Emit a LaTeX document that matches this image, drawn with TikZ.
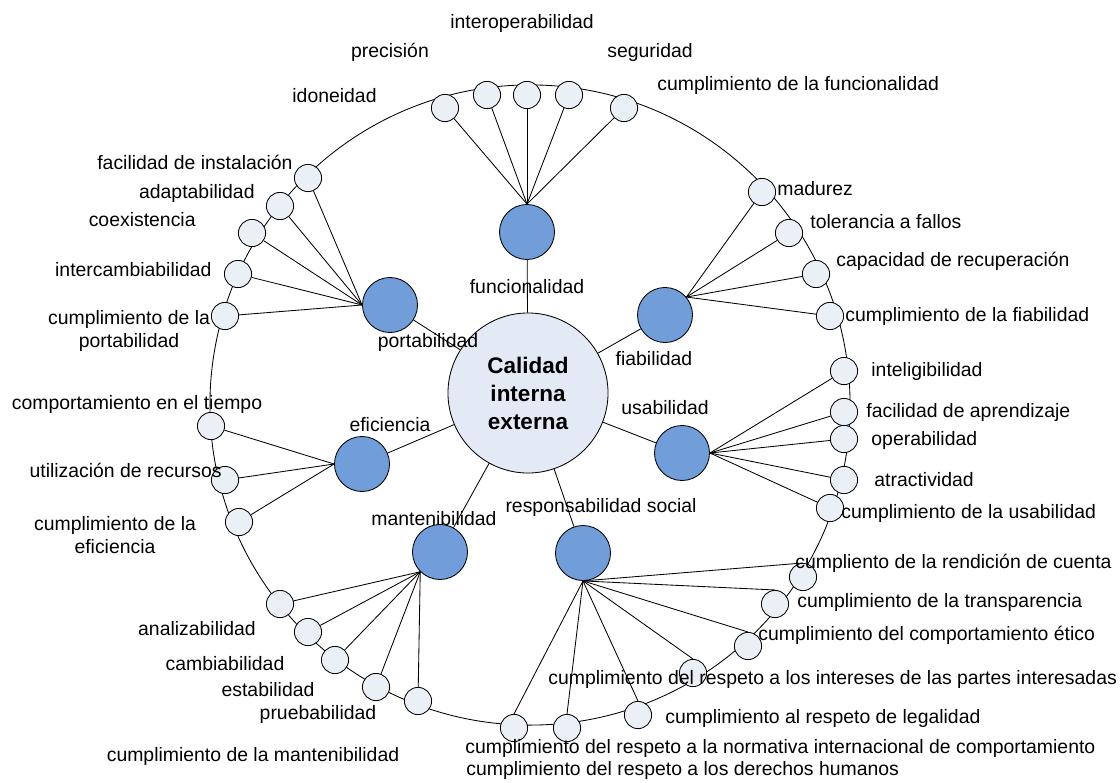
\documentclass[tikz,border=0pt]{standalone}
\usepackage{fontspec}
\setmainfont{Liberation Sans}
\usetikzlibrary{positioning}
\definecolor{catblue}{RGB}{113,157,217}
\definecolor{subgray}{RGB}{235,239,246}
\definecolor{coreblue}{RGB}{227,234,246}

\begin{document}
\begin{tikzpicture}[x=0.025cm,y=-0.025cm,line width=0.6pt,
    every node/.style={font=\fontsize{13.8}{16}\selectfont},
    core/.style={circle,draw,fill=coreblue,minimum size=4cm,inner sep=0pt,align=center,
      font=\bfseries\fontsize{16}{19.9}\selectfont},
    cat/.style={circle,draw,fill=catblue,minimum size=1.375cm,inner sep=0pt},
    sub/.style={circle,draw,fill=subgray,minimum size=0.68cm,inner sep=0pt},
    lbl/.style={inner sep=0pt},
    lw/.style={inner sep=0pt,anchor=west},
    le/.style={inner sep=0pt,anchor=east}]
    \useasboundingbox (0,0) rectangle (1120,783);
    % outer ring
    \draw (530,405) circle[radius=8cm];

    % centre and the seven characteristics
    \node[core] (calidad) at (528,393) {Calidad\\interna\\externa};
    \node[cat] (func) at (527,232) {};
    \node[cat] (port) at (390,305) {};
    \node[cat] (fiab) at (665,315) {};
    \node[cat] (usab) at (682,453) {};
    \node[cat] (efic) at (362,464) {};
    \node[cat] (mant) at (440,552) {};
    \node[cat] (resp) at (583,553) {};
    \foreach \c in {func,port,fiab,usab,efic,mant,resp}{\draw (calidad) -- (\c);}

    % sub-characteristics on the ring
    \foreach \n/\x/\y in {1/445/108,2/487/95,3/527/95,4/569/95,5/624/108}{\node[sub] (f\n) at (\x,\y) {};}
    \foreach \n/\x/\y in {1/308/178,2/280/206,3/252/233,4/238/274,5/225/316}{\node[sub] (p\n) at (\x,\y) {};}
    \foreach \n/\x/\y in {1/762/192,2/789/233,3/816/274,4/830/316}{\node[sub] (b\n) at (\x,\y) {};}
    \foreach \n/\x/\y in {1/844/371,2/844/412,3/844/439,4/844/480,5/830/508}{\node[sub] (u\n) at (\x,\y) {};}
    \foreach \n/\x/\y in {1/211/426,2/225/480,3/239/522}{\node[sub] (e\n) at (\x,\y) {};}
    \foreach \n/\x/\y in {1/280/604,2/308/632,3/335/660,4/376/687,5/418/701}{\node[sub] (m\n) at (\x,\y) {};}
    \foreach \n/\x/\y in {1/803/577,2/775/604,3/748/646,4/693/673,5/638/715,6/567/728,7/514/728}{\node[sub] (r\n) at (\x,\y) {};}

    \foreach \n in {1,...,5}{\draw (f\n) -- (func.north);}
    \foreach \n in {1,...,5}{\draw (p\n) -- (port.west);}
    \foreach \n in {1,...,4}{\draw (b\n) -- (fiab.40);}
    \foreach \n in {1,...,5}{\draw (u\n) -- (usab.east);}
    \foreach \n in {1,...,3}{\draw (e\n) -- (efic.west);}
    \foreach \n in {1,...,5}{\draw (m\n) -- (mant.225);}
    \foreach \n in {1,...,7}{\draw (r\n.north) -- (resp.south);}

    % characteristic labels
    \node[lbl] at (527,287) {funcionalidad};
    \node[lbl] at (428,342) {portabilidad};
    \node[lbl] at (654,359) {fiabilidad};
    \node[lbl] at (665,408) {usabilidad};
    \node[lbl] at (390,425) {eficiencia};
    \node[lbl] at (434,519) {mantenibilidad};
    \node[lbl] at (601,507) {responsabilidad social};

    % sub-characteristic labels
    \node[le] at (377,96) {idoneidad};
    \node[lbl] at (390,52) {precisión};
    \node[lbl] at (522,23) {interoperabilidad};
    \node[lw] at (607,52) {seguridad};
    \node[lw] at (657,85) {cumplimiento de la funcionalidad};

    \node[le] at (293,162) {facilidad de instalación};
    \node[le] at (255,193) {adaptabilidad};
    \node[le] at (196,220) {coexistencia};
    \node[le] at (212,270) {intercambiabilidad};
    \node[lbl,align=center] at (129,331) {cumplimiento de la\\portabilidad};

    \node[lw] at (777,189) {madurez};
    \node[lw] at (810,222) {tolerancia a fallos};
    \node[lw] at (836,261) {capacidad de recuperación};
    \node[lw] at (845,316) {cumplimiento de la fiabilidad};

    \node[lw] at (871,371) {inteligibilidad};
    \node[lw] at (866,412) {facilidad de aprendizaje};
    \node[lw] at (871,440) {operabilidad};
    \node[lw] at (874,480) {atractividad};
    \node[lw] at (841,513) {cumplimiento de la usabilidad};

    \node[lbl] at (137,404) {comportamiento en el tiempo};
    \node[le] at (222,470) {utilización de recursos};
    \node[lbl,align=center] at (115,535) {cumplimiento de la\\eficiencia};

    \node[lbl] at (197,629) {analizabilidad};
    \node[lbl] at (225,664) {cambiabilidad};
    \node[lbl] at (268,690) {estabilidad};
    \node[lbl] at (318,714) {pruebabilidad};
    \node[lbl] at (253,756) {cumplimiento de la mantenibilidad};

    \node[lw] at (795,563) {cumpliento de la rendición de cuenta};
    \node[lw] at (797,602) {cumplimiento de la transparencia};
    \node[lw] at (758,635) {cumplimiento del comportamiento ético};
    \node[lw] at (548,679) {cumplimiento del respeto a los intereses de las partes interesadas};
    \node[lw] at (665,718) {cumplimiento al respeto de legalidad};
    \node[lw] at (465,748) {cumplimiento del respeto a la normativa internacional de comportamiento};
    \node[lw] at (466,770) {cumplimiento del respeto a los derechos humanos};
  \end{tikzpicture}
\end{document}
